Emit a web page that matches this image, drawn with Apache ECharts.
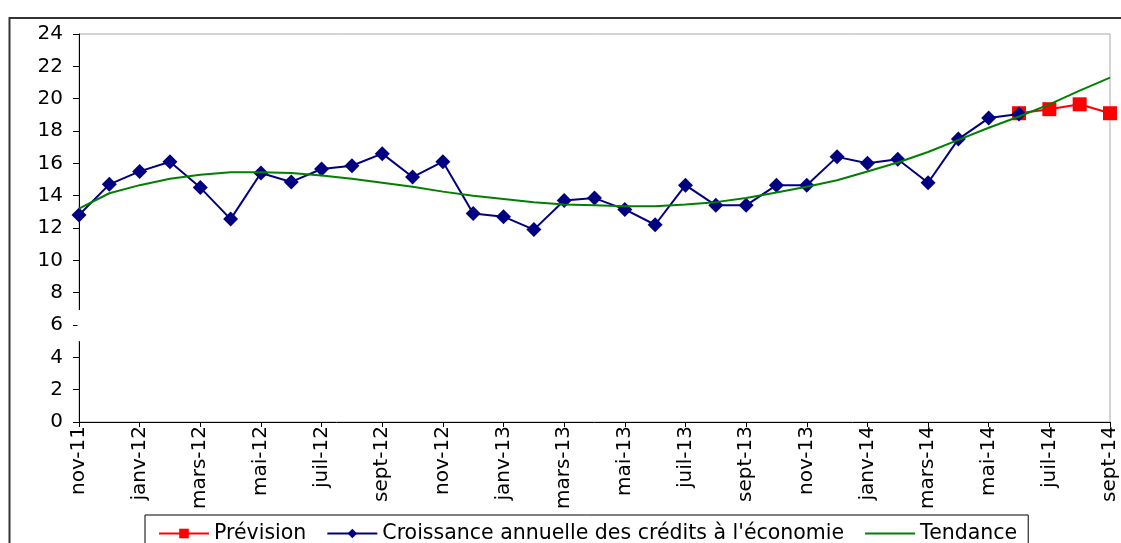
<!DOCTYPE html>
<html>
<head>
<meta charset="utf-8">
<title>Croissance des crédits</title>
<script src="https://cdn.jsdelivr.net/npm/echarts@6/dist/echarts.min.js"></script>
</head>
<body style="margin:0;background:#fff">
<div id="main" style="width:1121px;height:543px;"></div>
<script type="text/javascript">

// mois nov-11 .. sept-14
var months = ['nov-11','déc-11','janv-12','févr-12','mars-12','avr-12','mai-12','juin-12','juil-12','août-12','sept-12','oct-12',
  'nov-12','déc-12','janv-13','févr-13','mars-13','avr-13','mai-13','juin-13','juil-13','août-13','sept-13','oct-13',
  'nov-13','déc-13','janv-14','févr-14','mars-14','avr-14','mai-14','juin-14','juil-14','août-14','sept-14'];

var croissance = [12.8, 14.7, 15.5, 16.1, 14.5, 12.55, 15.4, 14.85, 15.65, 15.85, 16.6,
  15.15, 16.1, 12.9, 12.7, 11.9, 13.7, 13.85, 13.15, 12.2, 14.65, 13.4, 13.4, 14.65,
  14.65, 16.4, 16.0, 16.25, 14.8, 17.5, 18.8, 19.05];

var prevision = [null, null, null, null, null, null, null, null, null, null, null,
  null, null, null, null, null, null, null, null, null, null, null, null, null,
  null, null, null, null, null, null, null, 19.1, 19.35, 19.65, 19.1];

var tendance = [13.2, 14.15, 14.65, 15.05, 15.3, 15.45, 15.45, 15.4, 15.25, 15.05, 14.8,
  14.55, 14.25, 14.0, 13.8, 13.6, 13.45, 13.4, 13.35, 13.35, 13.45, 13.6, 13.85, 14.2,
  14.55, 14.95, 15.5, 16.05, 16.7, 17.45, 18.2, 18.9, 19.65, 20.5, 21.3];

var chartDom = document.getElementById('main');
var myChart = echarts.init(chartDom);
var font = 'DejaVu Sans, sans-serif';

var option = {
  animation: false,
  backgroundColor: '#fff',
  textStyle: { fontFamily: font },
  grid: {
    left: 79, top: 34, right: 11, bottom: 121,
    show: true, borderColor: '#aaa', borderWidth: 1
  },
  legend: {
    left: 145, top: 515,
    padding: [8, 11, 10, 13],
    borderColor: '#000', borderWidth: 1,
    itemWidth: 50, itemHeight: 12, itemGap: 20,
    textStyle: { fontSize: 20.5, color: '#000', fontFamily: font },
    data: [
      'Prévision',
      "Croissance annuelle des crédits à l'économie",
      { name: 'Tendance', itemStyle: { opacity: 0 } }
    ]
  },
  xAxis: {
    type: 'category',
    data: months,
    boundaryGap: false,
    axisLine: { lineStyle: { color: '#000', width: 1 } },
    axisTick: { interval: 1, length: 5, lineStyle: { color: '#000' } },
    axisLabel: {
      interval: 1, rotate: 90, margin: 4,
      fontSize: 20, color: '#000', fontFamily: font
    },
    splitLine: { show: false }
  },
  yAxis: {
    type: 'value',
    min: 0, max: 24, interval: 2,
    axisLine: { show: true, lineStyle: { color: '#000', width: 1 } },
    axisTick: { show: true, length: 6, lineStyle: { color: '#000' } },
    axisLabel: { fontSize: 20, color: '#000', margin: 16, fontFamily: font },
    splitLine: { show: false }
  },
  series: [
    {
      name: 'Prévision',
      type: 'line',
      data: prevision,
      symbol: 'rect', symbolSize: 14,
      lineStyle: { color: '#ff0000', width: 2 },
      itemStyle: { color: '#ff0000' },
      z: 3
    },
    {
      name: "Croissance annuelle des crédits à l'économie",
      type: 'line',
      data: croissance,
      symbol: 'diamond', symbolSize: 15,
      lineStyle: { color: '#000080', width: 2 },
      itemStyle: { color: '#000080' },
      z: 4
    },
    {
      name: 'Tendance',
      type: 'line',
      data: tendance,
      showSymbol: false,
      symbol: 'none',
      lineStyle: { color: '#008000', width: 2 },
      itemStyle: { color: '#008000' },
      z: 5
    }
  ]
};

myChart.setOption(option);

// cassure de l'axe vertical entre 5 et ~7, et cadre extérieur
var pTop = myChart.convertToPixel({ yAxisIndex: 0 }, 6.93);
var pBot = myChart.convertToPixel({ yAxisIndex: 0 }, 5);
var x0 = myChart.convertToPixel({ xAxisIndex: 0 }, 0);
myChart.setOption({
  graphic: [
    {
      type: 'rect',
      shape: { x: x0 - 1.5, y: pTop, width: 3, height: pBot - pTop },
      style: { fill: '#fff' },
      z: 100
    },
    {
      type: 'rect',
      shape: { x: 9.5, y: 18, width: 1200, height: 600 },
      style: { fill: null, stroke: '#333', lineWidth: 2 },
      silent: true,
      z: 100
    }
  ]
});
</script>
</body>
</html>
